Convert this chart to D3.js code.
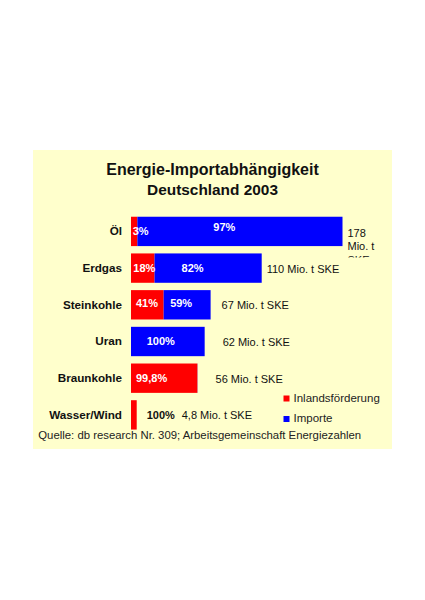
<!DOCTYPE html>
<html>
<head>
<meta charset="utf-8">
<script src="https://cdn.jsdelivr.net/npm/d3@7"></script>
<style>
  body { margin: 0; background: #fff; }
  text { font-family: "Liberation Sans", Arial, sans-serif; }
</style>
</head>
<body>
<div id="chart"></div>
<script>
// data
const categories = ["Öl", "Erdgas", "Steinkohle", "Uran", "Braunkohle", "Wasser/Wind"];
const totals = [178, 110, 67, 62, 56, 4.8];          // Mio. t SKE
const domesticShare = [3, 18, 41, 0, 99.8, 100];     // Inlandsförderung in %
const domesticLabels = ["3%", "18%", "41%", "", "99,8%", ""];
const importLabels = ["97%", "82%", "59%", "100%", "", "100%"];
const totalLabels = ["178 Mio. t SKE", "110 Mio. t SKE", "67 Mio. t SKE", "62 Mio. t SKE", "56 Mio. t SKE", "4,8 Mio. t SKE"];
const legendLabels = ["Inlandsförderung", "Importe"];

// hand placed text boxes in the original, nudges in px
const domesticGap = [1.7, 2.3, 5, 0, 5, 0];
const importGap = [76, 27, 6.5, 15.7, 0, 15.7];
const importDy = [-4, 0, -2, 0, 0, 0];
const totalGap = [5, 5, 11, 18, 18, 45];

const width = 425, height = 600;
const red = "#ff0000", blue = "#0000ff";

const svg = d3.select("#chart").append("svg")
    .attr("width", width)
    .attr("height", height);

// yellow panel
svg.append("rect")
    .attr("x", 33).attr("y", 150)
    .attr("width", 359).attr("height", 299)
    .attr("fill", "#ffffcc");

// title
svg.append("text")
    .attr("x", 212.5).attr("y", 175)
    .attr("text-anchor", "middle")
    .style("font-size", "16px").style("font-weight", "bold")
    .attr("fill", "#111")
    .text("Energie-Importabhängigkeit");
svg.append("text")
    .attr("x", 212.5).attr("y", 195)
    .attr("text-anchor", "middle")
    .style("font-size", "15.4px").style("font-weight", "bold")
    .attr("fill", "#111")
    .text("Deutschland 2003");

const x = d3.scaleLinear().domain([0, 178]).range([131, 342.5]);
const y = d3.scaleBand().domain(categories).range([209.4, 436.9]).padding(0.2);

const rows = categories.map((c, i) => ({
  name: c,
  total: totals[i],
  dom: totals[i] * domesticShare[i] / 100,
  i: i
}));

const row = svg.selectAll("g.row")
  .data(rows)
  .enter().append("g")
    .attr("class", "row");

// red part
row.append("rect")
    .attr("x", x(0))
    .attr("y", d => y(d.name))
    .attr("width", d => x(d.dom) - x(0))
    .attr("height", y.bandwidth())
    .attr("fill", red);

// blue part
row.append("rect")
    .attr("x", d => x(d.dom))
    .attr("y", d => y(d.name))
    .attr("width", d => Math.max(0, x(d.total) - x(d.dom)))
    .attr("height", y.bandwidth())
    .attr("fill", blue);

const mid = d => y(d.name) + y.bandwidth() / 2;

// category labels
row.append("text")
    .attr("x", 122)
    .attr("y", d => mid(d) + 4)
    .attr("text-anchor", "end")
    .style("font-size", "11.7px").style("font-weight", "bold")
    .attr("fill", "#111")
    .text(d => d.name);

// domestic % labels
row.append("text")
    .attr("x", d => x(0) + domesticGap[d.i])
    .attr("y", d => mid(d) + 4 + importDy[d.i] * (d.i === 2 ? 1 : 0))
    .style("font-size", "11px").style("font-weight", "bold")
    .attr("fill", "#fff")
    .text(d => domesticLabels[d.i]);

// import % labels (Wasser/Wind in black, outside the bar)
row.append("text")
    .attr("x", d => x(d.i === 5 ? 0 : d.dom) + importGap[d.i])
    .attr("y", d => mid(d) + 4 + importDy[d.i])
    .style("font-size", "11px").style("font-weight", "bold")
    .attr("fill", d => d.i === 5 ? "#111" : "#fff")
    .text(d => importLabels[d.i]);

// totals
const clip = svg.append("defs").append("clipPath").attr("id", "oelclip");
clip.append("rect")
    .attr("x", x(178)).attr("y", y("Öl"))
    .attr("width", 50).attr("height", 257.5 - y("Öl"));

row.filter(d => d.i > 0).append("text")
    .attr("x", d => x(d.total) + totalGap[d.i])
    .attr("y", d => mid(d) + 4.5)
    .style("font-size", "11px")
    .attr("fill", "#111")
    .text(d => totalLabels[d.i]);

// Öl total wraps in its narrow box
const oel = rows[0];
svg.append("text")
    .attr("clip-path", "url(#oelclip)")
    .style("font-size", "11px")
    .attr("fill", "#111")
  .selectAll("tspan")
  .data(["178", "Mio. t", "SKE"])
  .enter().append("tspan")
    .attr("x", x(oel.total) + totalGap[0])
    .attr("y", (d, k) => mid(oel) + 5.3 + k * 13.5)
    .text(d => d);

// legend
const legend = svg.selectAll("g.legend")
  .data(legendLabels)
  .enter().append("g")
    .attr("class", "legend")
    .attr("transform", (d, k) => `translate(283.5, ${395.5 + k * 20.5})`);
legend.append("rect")
    .attr("width", 6).attr("height", 6)
    .attr("fill", (d, k) => k === 0 ? red : blue);
legend.append("text")
    .attr("x", 10).attr("y", 6)
    .style("font-size", "11.5px")
    .attr("fill", "#222")
    .text(d => d);

// source
svg.append("text")
    .attr("x", 38.3).attr("y", 439)
    .style("font-size", "11.35px")
    .attr("fill", "#222")
    .text("Quelle: db research Nr. 309; Arbeitsgemeinschaft Energiezahlen");
</script>
</body>
</html>
